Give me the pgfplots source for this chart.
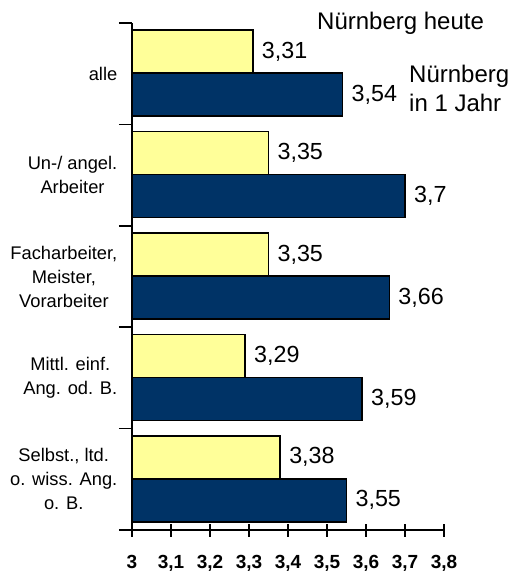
\documentclass[border=0pt]{standalone}
\usepackage{fontspec}
\setmainfont{Liberation Sans}
\usepackage{pgfplots}
\pgfplotsset{compat=1.18}
\definecolor{heute}{RGB}{255,255,153}
\definecolor{jahr}{RGB}{0,51,102}
\begin{document}
\begin{tikzpicture}
\useasboundingbox (0,0) rectangle (513pt,571pt);
\begin{axis}[
  at={(132pt,41pt)}, anchor=south west,
  scale only axis, width=312pt, height=507pt,
  xmin=3, xmax=3.8, ymin=-0.5, ymax=4.5, y dir=reverse,
  axis x line*=bottom, axis y line*=left,
  axis line style={line width=1.5pt, -},
  xtick={3,3.1,3.2,3.3,3.4,3.5,3.6,3.7,3.8},
  ytick={-0.5,0.5,1.5,2.5,3.5,4.5},
  yticklabels={\relax},
  yticklabel style={text opacity=0},
  tick align=center, major tick length=13pt,
  tick style={line width=1.5pt, black},
  /pgf/number format/use comma,
  /pgf/number format/assume math mode=true,
  /pgf/number format/1000 sep={},
  xticklabel style={font=\fontsize{19}{22}\selectfont\bfseries, yshift=-15pt},
  xbar, bar width=43pt,
  clip mode=individual,
  axis on top,
  nodes near coords,
  nodes near coords style={font=\fontsize{23.3}{26}\selectfont, xshift=5pt},
]
\addplot[fill=heute, draw=black, line width=1.5pt, bar shift=22pt] coordinates {
 (3.31,0) (3.35,1) (3.35,2) (3.29,3) (3.38,4)};
\addplot[fill=jahr, draw=black, line width=1.5pt, bar shift=-21pt] coordinates {
 (3.54,0) (3.70,1) (3.66,2) (3.59,3) (3.55,4)};
\begin{scope}[every node/.style={anchor=east, align=center, font=\fontsize{18.3}{24}\selectfont, inner sep=0pt, xshift=-14.5pt}]
\node at (axis cs:3,0) {alle};
\node at (axis cs:3,1) {Un-/ angel.\\Arbeiter};
\node at (axis cs:3,2) {Facharbeiter,\\Meister,\\Vorarbeiter};
\node at (axis cs:3,3) {Mittl. einf.\\Ang. od. B.};
\node at (axis cs:3,4) {Selbst., ltd.\\o. wiss. Ang.\\o. B.};
\end{scope}
\end{axis}
\node[anchor=base west, font=\fontsize{24}{28}\selectfont, inner sep=0pt] at (317pt,541pt) {Nürnberg heute};
\node[anchor=base west, font=\fontsize{24}{28}\selectfont, inner sep=0pt] at (409pt,488pt) {Nürnberg};
\node[anchor=base west, font=\fontsize{24}{28}\selectfont, inner sep=0pt] at (409pt,459pt) {in 1 Jahr};
\end{tikzpicture}
\end{document}
